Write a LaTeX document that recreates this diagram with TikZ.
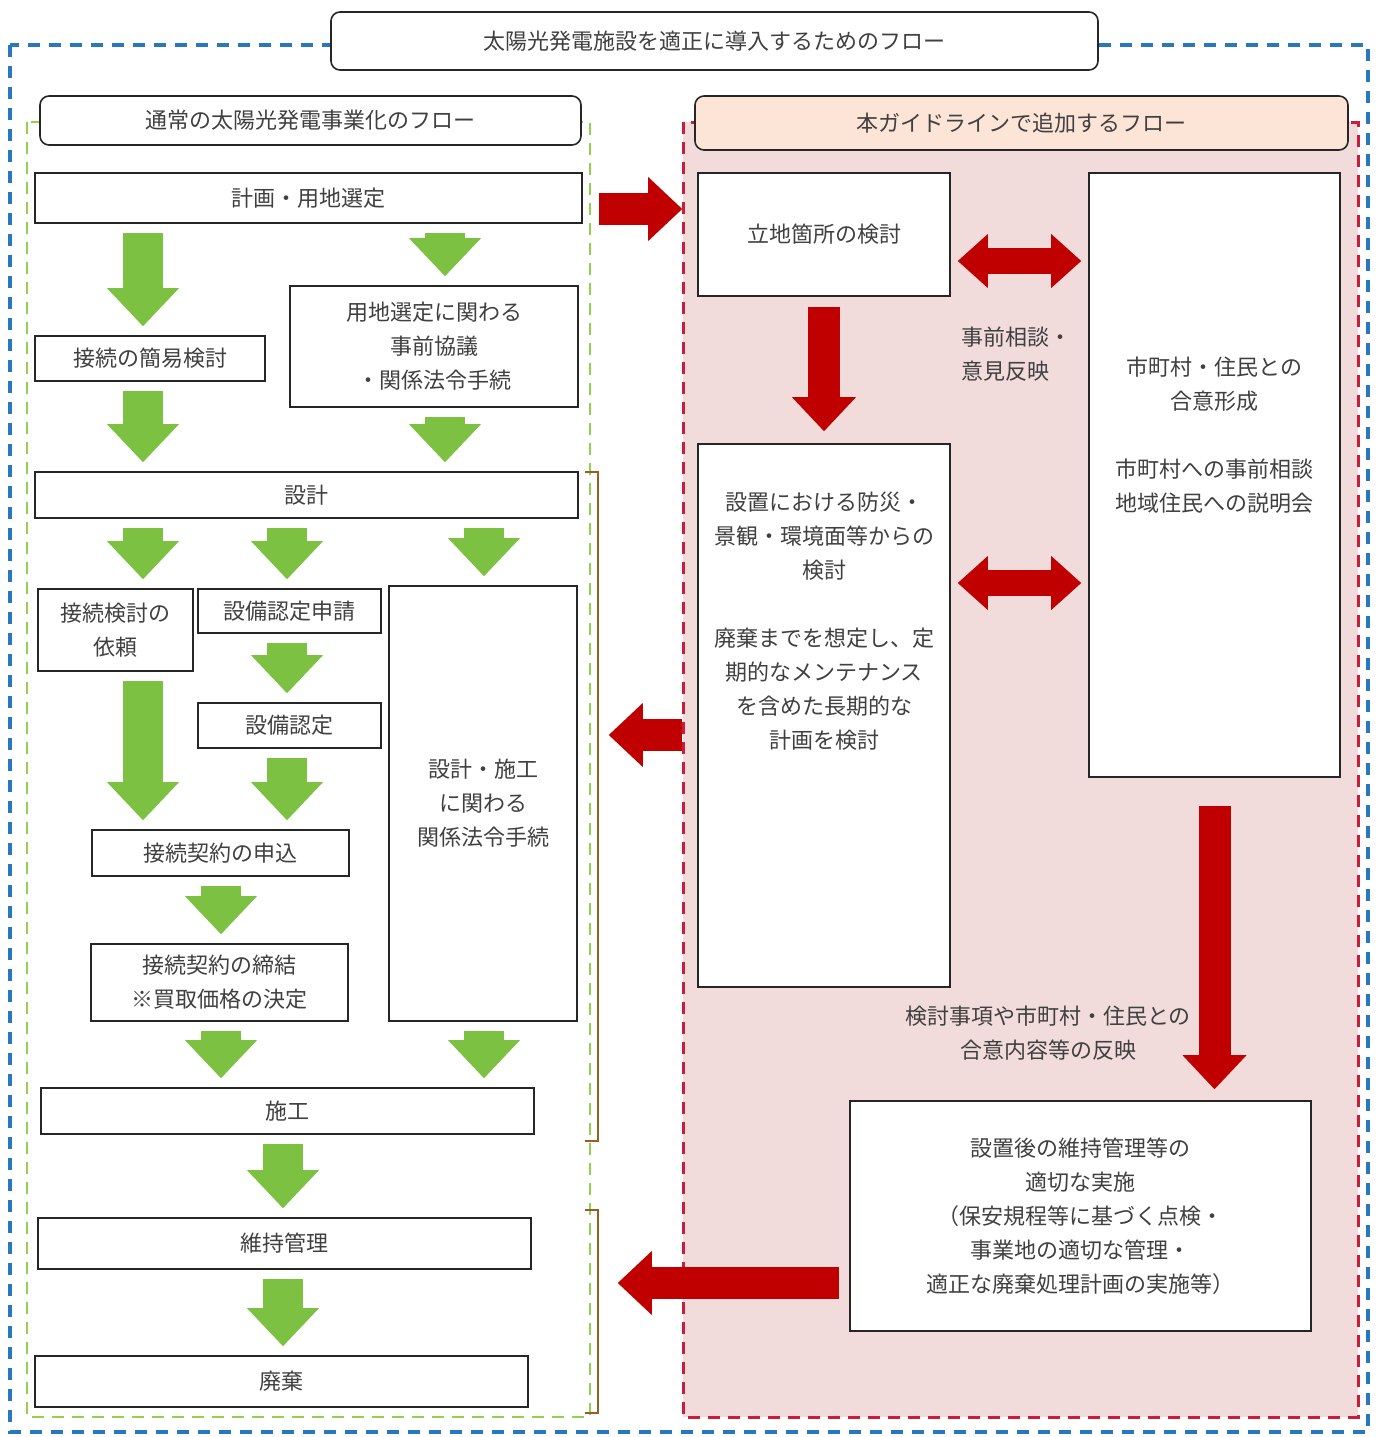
\documentclass[tikz,border=0pt]{standalone}
\usepackage{fontspec}
\usepackage{tikz}
\usetikzlibrary{arrows.meta}
\newfontfamily\jpfont{Noto Sans CJK JP}
\definecolor{flowblue}{RGB}{40,120,190}
\definecolor{flowgreen}{RGB}{146,208,80}
\definecolor{arrgreen}{RGB}{125,193,66}
\definecolor{arrred}{RGB}{192,0,0}
\definecolor{dashred}{RGB}{200,30,60}
\definecolor{pinkbg}{RGB}{242,220,219}
\definecolor{peach}{RGB}{252,228,214}
\definecolor{brack}{RGB}{150,95,35}
\definecolor{txtgray}{RGB}{64,64,64}

\begin{document}
\begin{tikzpicture}[x=1pt,y=-1pt,note/.style={text=txtgray,font=\jpfont\fontsize{22}{34}\selectfont},box/.style={note,draw=black!85,fill=white,line width=1.6pt,align=center,inner sep=4pt},head/.style={box,rounded corners=9pt},every label/.style={note,align=center},garr/.style={draw=arrgreen,line width=40pt,-{Triangle[width=72pt,length=38pt,line width=0pt]},shorten <=9pt,shorten >=9pt},rarr/.style={draw=arrred,line width=32pt,-{Triangle[width=64pt,length=34pt,line width=0pt]}},rbi/.style={draw=arrred,line width=26pt,{Triangle[width=54pt,length=30pt,line width=0pt]}-{Triangle[width=54pt,length=30pt,line width=0pt]},shorten <=7pt,shorten >=7pt}]

\useasboundingbox (0,0) rectangle (1380,1437);
\draw[flowblue,line width=3.2pt,dash pattern=on 12pt off 9pt] (10,45) rectangle (1368,1432);
\draw[flowgreen,line width=2.5pt,dash pattern=on 12pt off 8pt] (27,122) rectangle (590,1417);
\draw[dashred,fill=pinkbg,line width=3pt,dash pattern=on 12pt off 8pt] (683,122) rectangle (1358,1417);

\node[head,minimum width=767pt,minimum height=58pt] (t) at (714.5,41) {太陽光発電施設を適正に導入するためのフロー};
\node[head,minimum width=541pt,minimum height=49pt] (lh) at (310.5,120.5) {通常の太陽光発電事業化のフロー};
\node[head,fill=peach,minimum width=653pt,minimum height=54pt] (rh) at (1021.5,123) {本ガイドラインで追加するフロー};

\node[box,minimum width=547pt,minimum height=50pt] (p) at (308.5,198) {計画・用地選定};
\node[box,minimum width=230pt,minimum height=45pt] (k) at (150,358.5) {接続の簡易検討};
\node[box,minimum width=288pt,minimum height=121pt] (y) at (434,346.5) {用地選定に関わる\\事前協議\\・関係法令手続};
\node[box,minimum width=543pt,minimum height=46pt] (s) at (306.5,495) {設計};
\node[box,minimum width=155pt,minimum height=82pt] (i) at (115.5,630) {接続検討の\\依頼};
\node[box,minimum width=183pt,minimum height=44pt] (a1) at (289.5,611) {設備認定申請};
\node[box,minimum width=183pt,minimum height=45pt] (a2) at (289.5,725.5) {設備認定};
\node[box,minimum width=188pt,minimum height=435pt] (h) at (483,803.5) {設計・施工\\に関わる\\関係法令手続};
\node[box,minimum width=257pt,minimum height=46pt] (m) at (220.5,853) {接続契約の申込};
\node[box,minimum width=257pt,minimum height=77pt] (c) at (219.5,982.5) {接続契約の締結\\※買取価格の決定};
\node[box,minimum width=493pt,minimum height=46pt] (w) at (287.5,1111) {施工};
\node[box,minimum width=493pt,minimum height=51pt] (mt) at (284.5,1243.5) {維持管理};
\node[box,minimum width=493pt,minimum height=51pt] (d) at (281.5,1381.5) {廃棄};

\node[box,minimum width=252pt,minimum height=123pt] (r) at (824,234.5) {立地箇所の検討};
\node[box,minimum width=252pt,minimum height=543pt,label={[yshift=94pt]center:設置における防災・\\景観・環境面等からの\\検討\\[34pt]廃棄までを想定し、定\\期的なメンテナンス\\を含めた長期的な\\計画を検討}] (b) at (824,715.5) {};
\node[box,minimum width=251pt,minimum height=604pt,label={[yshift=40pt]center:市町村・住民との\\合意形成\\[34pt]市町村への事前相談\\地域住民への説明会}] (g) at (1214.5,475) {};
\node[box,minimum width=461pt,minimum height=230pt] (n) at (1080.5,1216) {設置後の維持管理等の\\適切な実施\\（保安規程等に基づく点検・\\事業地の適切な管理・\\適正な廃棄処理計画の実施等）};
\node[note,anchor=west,align=left] (q) at (958,354) {事前相談・\\意見反映};
\node[note,align=center] (e) at (1048,1033) {検討事項や市町村・住民との\\合意内容等の反映};

\draw[brack,line width=2.6pt] (585,472)--(598,472)--(598,1141)--(585,1141);
\draw[brack,line width=2.6pt] (585,1210)--(598,1210)--(598,1413)--(585,1413);

\coordinate (c1) at (143,0);\coordinate (c2) at (287,0);\coordinate (c3) at (484,0);
\coordinate (c4) at (445,0);\coordinate (c5) at (221,0);\coordinate (c6) at (283,0);
\draw[garr](p.south-|c1)--(k.north-|c1);\draw[garr](p.south-|c4)--(y.north-|c4);
\draw[garr](k.south-|c1)--(s.north-|c1);\draw[garr](y.south-|c4)--(s.north-|c4);
\draw[garr](s.south-|c1)--(i.north-|c1);\draw[garr](s.south-|c2)--(a1.north-|c2);\draw[garr](s.south-|c3)--(h.north-|c3);
\draw[garr](a1.south-|c2)--(a2.north-|c2);\draw[garr](i.south-|c1)--(m.north-|c1);\draw[garr](a2.south-|c2)--(m.north-|c2);
\draw[garr](m.south-|c5)--(c.north-|c5);\draw[garr](c.south-|c5)--(w.north-|c5);\draw[garr](h.south-|c3)--(w.north-|c3);
\draw[garr](w.south-|c6)--(mt.north-|c6);\draw[garr](mt.south-|c6)--(d.north-|c6);

\coordinate (r1) at (0,209);\coordinate (r2) at (0,261);\coordinate (r3) at (0,583);
\coordinate (r4) at (0,735);\coordinate (r5) at (0,1283);
\draw[rarr,shorten <=16pt,shorten >=15pt](p.east|-r1)--(r.west|-r1);
\draw[rarr,shorten <=10pt,shorten >=12pt](r.south)--(b.north);
\draw[rbi](r.east|-r2)--(g.west|-r2);\draw[rbi](b.east|-r3)--(g.west|-r3);
\draw[rarr,shorten <=15pt,shorten >=31pt](b.west|-r4)--(h.east|-r4);
\draw[rarr,shorten <=28pt,shorten >=11pt](g.south)--(n.north-|g.south);
\draw[rarr,shorten <=10pt,shorten >=86pt](n.west|-r5)--(mt.east|-r5);
\end{tikzpicture}
\end{document}
